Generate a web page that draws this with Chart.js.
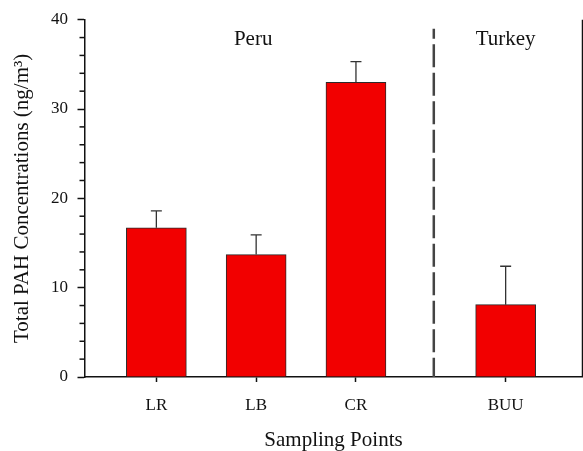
<!DOCTYPE html>
<html>
<head>
<meta charset="utf-8">
<script src="https://cdn.jsdelivr.net/npm/chart.js@4.4.1/dist/chart.umd.min.js"></script>
<style>
  html, body { margin: 0; padding: 0; background: #ffffff; }
  #wrap { width: 583px; height: 451px; }
</style>
</head>
<body>
<div id="wrap"><canvas id="c" width="583" height="451"></canvas></div>
<script>
// Sampling points and their mean total PAH concentrations (ng/m3)
const sites = ['LR', 'LB', 'CR', 'BUU'];
const sitePos = [1, 2, 3, 4.5];          // place of each site along the x axis
const meanPAH = [16.7, 13.7, 33.0, 8.1];
const sdPAH = [1.9, 2.2, 2.3, 4.3];
const yMajorTicks = [0, 10, 20, 30, 40];
const yMinorTicks = [2, 4, 6, 8, 12, 14, 16, 18, 22, 24, 26, 28, 32, 34, 36, 38];
const regions = ['Peru', 'Turkey'];
const regionCenters = [1.97, 4.5];
const regionDivider = 3.78;

const FONT = "'Liberation Serif', 'Times New Roman', serif";
const INK = '#111111';

// Error bars, minor ticks, the right frame line, the divider and region names
const extras = {
  id: 'extras',
  afterDraw(chart) {
    const { ctx, chartArea: a, scales: { x, y } } = chart;
    ctx.save();

    // upper error bars
    ctx.strokeStyle = '#333333';
    ctx.lineWidth = 1.3;
    meanPAH.forEach((m, i) => {
      const px = x.getPixelForValue(sitePos[i]);
      const top = y.getPixelForValue(m + sdPAH[i]);
      const base = y.getPixelForValue(m);
      ctx.beginPath();
      ctx.moveTo(px, base);
      ctx.lineTo(px, top);
      ctx.moveTo(px - 5.5, top);
      ctx.lineTo(px + 5.5, top);
      ctx.stroke();
    });

    // minor ticks on the left axis
    ctx.strokeStyle = INK;
    ctx.lineWidth = 1.5;
    yMinorTicks.forEach(v => {
      const py = y.getPixelForValue(v);
      ctx.beginPath();
      ctx.moveTo(a.left, py);
      ctx.lineTo(a.left - 5, py);
      ctx.stroke();
    });

    // right frame line
    ctx.lineWidth = 1.5;
    ctx.beginPath();
    ctx.moveTo(a.right, a.top);
    ctx.lineTo(a.right, a.bottom);
    ctx.stroke();

    // dashed divider between the two countries
    const dx = x.getPixelForValue(regionDivider);
    ctx.strokeStyle = '#444444';
    ctx.lineWidth = 2.5;
    ctx.setLineDash([23, 5.5]);
    ctx.lineDashOffset = 13;
    ctx.beginPath();
    ctx.moveTo(dx, a.top + 9);
    ctx.lineTo(dx, a.bottom);
    ctx.stroke();
    ctx.setLineDash([]);

    // country names
    ctx.fillStyle = INK;
    ctx.font = '21px ' + FONT;
    ctx.textAlign = 'center';
    ctx.textBaseline = 'alphabetic';
    regions.forEach((r, i) => {
      ctx.fillText(r, x.getPixelForValue(regionCenters[i]), a.top + 25);
    });

    ctx.restore();
  }
};

new Chart(document.getElementById('c'), {
  type: 'bar',
  data: {
    datasets: [{
      data: sitePos.map((p, i) => ({ x: p, y: meanPAH[i] })),
      backgroundColor: '#f20000',
      borderColor: '#2a2a2a',
      borderWidth: 1,
      barThickness: 60
    }]
  },
  options: {
    responsive: false,
    animation: false,
    layout: { padding: { top: 18, right: 0.5, left: 0, bottom: 0 } },
    plugins: { legend: { display: false }, tooltip: { enabled: false } },
    scales: {
      x: {
        type: 'linear',
        offset: false,
        min: 0.28,
        max: 5.27,
        afterBuildTicks: s => { s.ticks = sitePos.map(v => ({ value: v })); },
        afterFit: s => { s.height = 74; },
        ticks: {
          autoSkip: false,
          maxRotation: 0,
          padding: 13,
          color: INK,
          font: { family: FONT, size: 17 },
          callback: v => sites[sitePos.indexOf(v)]
        },
        grid: {
          display: true,
          offset: false,
          drawOnChartArea: false,
          drawTicks: true,
          tickLength: 5,
          tickWidth: 1.5,
          tickColor: INK
        },
        border: { display: true, color: INK, width: 1.5 },
        title: {
          display: true,
          text: 'Sampling Points',
          color: INK,
          font: { family: FONT, size: 21, lineHeight: 1.0 },
          padding: { top: 0, bottom: 0 }
        }
      },
      y: {
        min: 0,
        max: 40,
        afterBuildTicks: s => { s.ticks = yMajorTicks.map(v => ({ value: v })); },
        afterFit: s => { s.width = 84.5; },
        ticks: {
          padding: 9.5,
          color: INK,
          font: { family: FONT, size: 17 }
        },
        grid: {
          display: true,
          drawOnChartArea: false,
          drawTicks: true,
          tickLength: 7,
          tickWidth: 1.5,
          tickColor: INK
        },
        border: { display: true, color: INK, width: 1.5 },
        title: {
          display: true,
          text: 'Total PAH Concentrations (ng/m³)',
          color: INK,
          font: { family: FONT, size: 21, lineHeight: 1.0 },
          padding: { top: 12, bottom: 0 }
        }
      }
    }
  },
  plugins: [extras]
});
</script>
</body>
</html>
